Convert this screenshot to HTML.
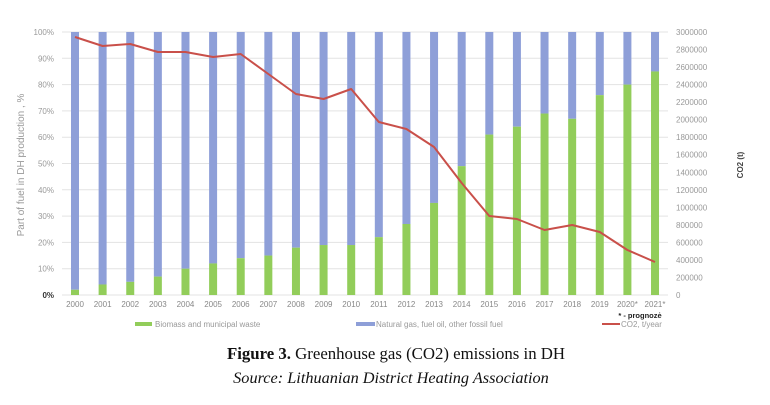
<!DOCTYPE html>
<html><head><style>
body{margin:0;background:#fff;width:770px;height:400px;overflow:hidden}
svg text{font-family:"Liberation Sans",sans-serif}
</style></head><body>
<svg width="770" height="400" xmlns="http://www.w3.org/2000/svg">
<g id="g"></g>
</svg>
<script>
(function(){
var g=document.getElementById('g');var s='';
var T=32,B=295,H=B-T;
for(var i=0;i<=10;i++){var y=B-H*i/10;s+='<line x1="62" x2="668" y1="'+y+'" y2="'+y+'" stroke="#e3e3e3" stroke-width="1"/>';
s+='<text x="54" y="'+(y+3)+'" font-size="8" fill="'+(i==0?'#333':'#999')+'" text-anchor="end" '+(i==0?'font-weight="bold"':'')+'>'+(i*10)+'%</text>';}
for(var i=0;i<=15;i++){var y=B-H*i/15;s+='<text x="676" y="'+(y+3)+'" font-size="8" fill="#999">'+(i==0?'0':i*200000)+'</text>';}
var gr=[2,4,5,7,10,12,14,15,18,19,19,22,27,35,49,61,64,69,67,76,80,85];
var co=[37,46,44,52,52,57,54,74,94,99,89,122,129,147,183,216,219,230,225,232,250,262];
var pts=[];
for(var i=0;i<22;i++){var x=75+i*27.62;var gy=B-H*gr[i]/100;
s+='<rect x="'+(x-4)+'" y="'+T+'" width="8" height="'+(gy-T)+'" fill="#8e9fd8"/>';
s+='<rect x="'+(x-4)+'" y="'+gy+'" width="8" height="'+(B-gy)+'" fill="#92cd5a"/>';
var lab=(2000+i)+(i>=20?'*':'');
s+='<text x="'+x+'" y="307" font-size="8" fill="#888" text-anchor="middle">'+lab+'</text>';
pts.push(x+','+co[i]);}
s+='<polyline points="'+pts.join(' ')+'" fill="none" stroke="#c9504a" stroke-width="2" stroke-linejoin="round"/>';
s+='<text transform="translate(24,165) rotate(-90)" font-size="10" fill="#999" text-anchor="middle">Part of fuel in DH production , %</text>';
s+='<text transform="translate(743,165) rotate(-90)" font-size="8" fill="#444" text-anchor="middle" font-weight="bold">CO2 (t)</text>';
s+='<text x="640" y="318" font-size="7.5" fill="#222" font-weight="bold" text-anchor="middle">* - prognozė</text>';
s+='<rect x="135" y="322" width="17" height="4" fill="#92cd5a"/><text x="155" y="327" font-size="8" fill="#999">Biomass and municipal waste</text>';
s+='<rect x="356" y="322" width="19" height="4" fill="#8e9fd8"/><text x="376" y="327" font-size="8" fill="#999">Natural gas, fuel oil, other fossil fuel</text>';
s+='<line x1="602" x2="620" y1="324" y2="324" stroke="#c9504a" stroke-width="2"/><text x="621" y="327" font-size="8" fill="#999">CO2, t/year</text>';
s+='<text x="396" y="359" font-size="16.8" text-anchor="middle" style="font-family:\'Liberation Serif\',serif" fill="#111"><tspan font-weight="bold">Figure 3.</tspan> Greenhouse gas (CO2) emissions in DH</text>';
s+='<text x="391" y="383" font-size="16.3" text-anchor="middle" font-style="italic" style="font-family:\'Liberation Serif\',serif" fill="#111">Source: Lithuanian District Heating Association</text>';
g.innerHTML=s;
})();
</script>
</body></html>
